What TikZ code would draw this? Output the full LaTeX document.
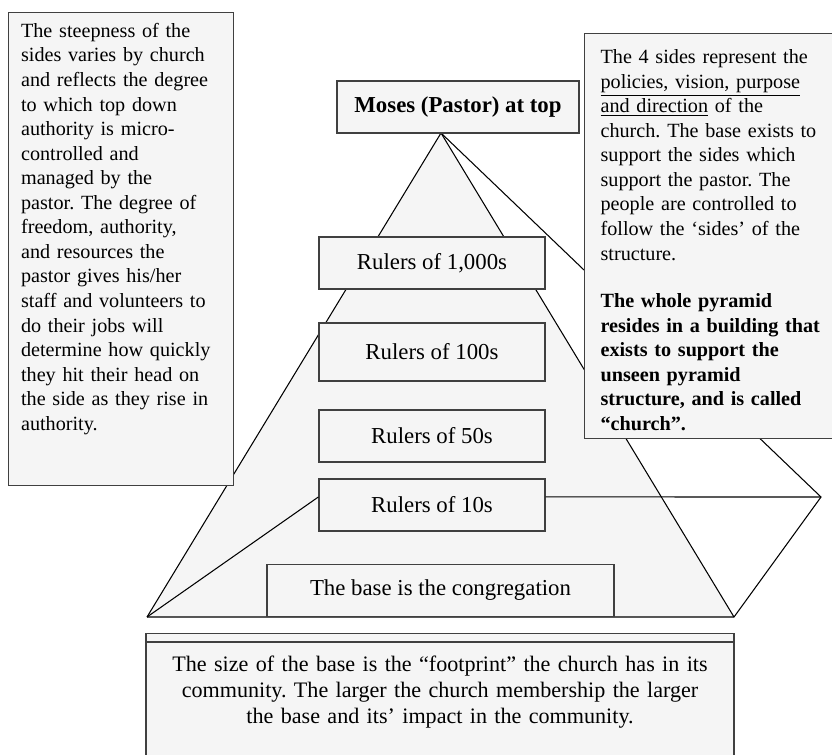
\documentclass[tikz,border=0pt]{standalone}
\usepackage{fontspec}
\setmainfont{Liberation Serif}
\usepackage{tikz}
\usetikzlibrary{calc}
\definecolor{panelgray}{rgb}{0.96, 0.96, 0.96}
\definecolor{framegray}{rgb}{0.25, 0.25, 0.25}
\frenchspacing
\hyphenpenalty=10000

\begin{document}
\begin{tikzpicture}[x=0.57pt, y=-0.57pt,
	panel/.style={draw=framegray, line width=0.7pt, fill=panelgray},
	level/.style={panel, inner sep=0pt, minimum width=128.8pt, minimum height=29.6pt, font=\fontsize{13}{15}\selectfont},
	note/.style={panel, anchor=north west, align=left, inner ysep=0pt, font=\fontsize{11.5}{14}\selectfont},
	ridge/.style={line width=0.6pt}]

	\useasboundingbox (0,0) rectangle (832,754);

	% Corners of the pyramid
	\coordinate (apex) at (441,133);
	\coordinate (frontleft) at (147,617);
	\coordinate (frontright) at (734,617);
	\coordinate (backright) at (821,497);

	% Front face and edges
	\fill[panelgray] (apex) -- (frontleft) -- (frontright) -- cycle;
	\draw[ridge] (frontleft) -- (apex) -- (frontright);
	\draw[ridge] (apex) -- (backright) -- (frontright) -- (frontleft);

	% Levels, top to bottom
	\node[level, minimum width=138pt, font=\fontsize{13}{15}\bfseries] (pastor) at (458,107) {Moses (Pastor) at top};
	\node[level] (thousands) at (432,263) {Rulers of 1,000s};
	\node[level, minimum height=33.1pt] (hundreds) at (432,352) {Rulers of 100s};
	\node[level] (fifties) at (432,436) {Rulers of 50s};
	\node[level] (tens) at (432,505) {Rulers of 10s};
	\node[level, minimum width=197.8pt, anchor=south] (base) at (440.5,617) {The base is the congregation};

	% Back edge of the base, behind the levels
	\draw[ridge] (frontleft) -- ([yshift=4.6pt]tens.west);
	\draw[ridge] ([yshift=4.6pt]tens.east) -- (backright);

	% Notes
	\node[note, inner xsep=7.1pt, text width=114pt, text height=14.1pt, text depth=255.5pt] (steepness) at (8,12) {The steepness of the\\
		sides varies by church\\
		and reflects the degree\\
		to which top down\\
		authority is micro-\\
		controlled and\\
		managed by the\\
		pastor. The degree of\\
		freedom, authority,\\
		and resources the\\
		pastor gives his/her\\
		staff and volunteers to\\
		do their jobs will\\
		determine how quickly\\
		they hit their head on\\
		the side as they rise in\\
		authority.};
	\node[note, inner xsep=9.1pt, text width=140pt, text height=17.1pt, text depth=213.8pt] (sides) at (584,33) {The 4 sides represent the\\
		\underline{policies, vision, purpose}\\
		\underline{and direction} of the\\
		church. The base exists to\\
		support the sides which\\
		support the pastor. The\\
		people are controlled to\\
		follow the ‘sides’ of the\\
		structure.\\[13pt]
		\bfseries The whole pyramid\\
		resides in a building that\\
		exists to support the\\
		unseen pyramid\\
		structure, and is called\\
		“church”.};
	\node[panel, anchor=north, align=center, inner xsep=10pt, inner ysep=0pt, text width=315.2pt, text height=21.7pt, text depth=90pt, font=\fontsize{12.6}{14.8}\selectfont] (footprint) at (440,633) {The size of the base is the “footprint” the church has in its\\
		community. The larger the church membership the larger\\
		the base and its’ impact in the community.};
	\draw[panel] ([yshift=-5.1pt]footprint.north west) -- ([yshift=-5.1pt]footprint.north east);
\end{tikzpicture}
\end{document}
